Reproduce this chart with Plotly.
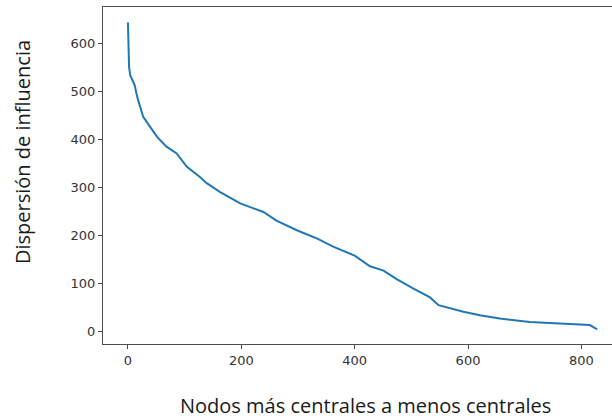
import plotly.graph_objects as go

# Ranked nodes (most central -> least central) and influence spread
node_rank = [0, 0.5, 1, 2, 4, 8, 12, 15, 18, 27, 39, 51, 68, 86, 104, 127, 139, 162, 198,
             239, 262, 298, 335, 362, 400, 427, 451, 474, 503, 533, 548, 570, 592,
             621, 656, 709, 756, 804, 815, 824, 828]
spread = [643, 600, 570, 550, 533, 522, 512, 495, 481, 446, 426, 405, 384, 370, 342, 321,
          308, 290, 266, 248, 230, 210, 192, 176, 157, 135, 126, 108, 89, 70, 54, 47, 40,
          33, 26, 19, 16, 14, 12.5, 6, 4]

x_ticks = [0, 200, 400, 600, 800]
y_ticks = [0, 100, 200, 300, 400, 500, 600]

x_title = "Nodos más centrales a menos centrales"
y_title = "Dispersión de influencia"

fig = go.Figure()
fig.add_trace(go.Scatter(x=node_rank, y=spread, mode="lines",
                         line=dict(color="#1f77b4", width=2), showlegend=False))

axis_common = dict(showgrid=False, zeroline=False, showline=True, linecolor="#4d4d4d",
                   linewidth=1.2, ticks="outside", ticklen=4, tickwidth=1,
                   tickcolor="#4d4d4d",
                   tickfont=dict(family="DejaVu Sans", size=13, color="#333333"))

fig.update_layout(
    width=612, height=420,
    margin=dict(l=103, r=0, t=7, b=76),
    paper_bgcolor="white", plot_bgcolor="white",
    xaxis=dict(range=[-44, 854], tickvals=x_ticks, mirror=True, **axis_common),
    yaxis=dict(range=[-27, 675], tickvals=y_ticks, mirror=False, **axis_common),
    annotations=[
        dict(text=x_title, xref="paper", yref="paper", x=(365 - 103) / 509,
             y=(344 - 406) / 337, showarrow=False, xanchor="center", yanchor="middle",
             font=dict(family="Open Sans", size=20, color="#1a1a1a")),
        dict(text=y_title, xref="paper", yref="paper", x=(22 - 103) / 509,
             y=(344 - 152) / 337, showarrow=False, xanchor="center", yanchor="middle",
             textangle=-90,
             font=dict(family="Open Sans", size=20, color="#1a1a1a")),
    ],
)

fig.write_html("out.html")
